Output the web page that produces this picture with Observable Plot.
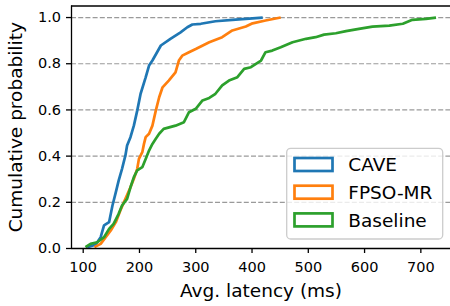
<!DOCTYPE html>
<html>
<head>
<meta charset="utf-8">
<script src="https://cdn.jsdelivr.net/npm/d3@7"></script>
<script src="https://cdn.jsdelivr.net/npm/@observablehq/plot@0.6"></script>
<style>
  html, body { margin: 0; padding: 0; background: white; }
  svg { display: block; }
</style>
</head>
<body>
<div id="chart"></div>
<script>
const seriesNames = ["CAVE", "FPSO-MR", "Baseline"];
const seriesColors = ["#1f77b4", "#ff7f0e", "#2ca02c"];

const caveLatency = [107, 122, 131, 137, 146, 152, 158, 163, 169, 175, 178, 184, 190, 196, 202, 211, 217, 223, 238, 255, 273, 285, 294, 309, 335, 371, 419];
const caveProb    = [0.006, 0.016, 0.049, 0.100, 0.114, 0.186, 0.244, 0.294, 0.345, 0.403, 0.446, 0.482, 0.532, 0.597, 0.670, 0.741, 0.792, 0.814, 0.879, 0.908, 0.936, 0.958, 0.970, 0.973, 0.984, 0.991, 1.0];

const fpsoLatency = [120, 131, 140, 149, 158, 166, 175, 184, 190, 196, 199, 205, 208, 211, 217, 223, 229, 235, 241, 252, 264, 270, 276, 288, 300, 324, 347, 365, 389, 401, 424, 451];
const fpsoProb    = [0.006, 0.020, 0.049, 0.078, 0.114, 0.165, 0.215, 0.265, 0.302, 0.345, 0.388, 0.417, 0.453, 0.482, 0.497, 0.532, 0.597, 0.655, 0.698, 0.727, 0.763, 0.814, 0.835, 0.850, 0.864, 0.893, 0.915, 0.944, 0.961, 0.975, 0.987, 1.0];

const baseLatency = [104, 113, 125, 137, 146, 154, 163, 169, 178, 184, 190, 196, 205, 211, 217, 223, 229, 235, 243, 264, 279, 288, 300, 312, 324, 335, 347, 359, 374, 386, 398, 416, 424, 436, 451, 472, 496, 513, 528, 549, 567, 590, 614, 644, 668, 685, 709, 727];
const baseProb    = [0.006, 0.020, 0.027, 0.049, 0.085, 0.107, 0.150, 0.186, 0.215, 0.265, 0.309, 0.338, 0.352, 0.388, 0.424, 0.453, 0.475, 0.497, 0.518, 0.532, 0.547, 0.590, 0.605, 0.641, 0.652, 0.670, 0.706, 0.727, 0.742, 0.778, 0.785, 0.814, 0.850, 0.857, 0.871, 0.893, 0.908, 0.915, 0.926, 0.932, 0.941, 0.951, 0.961, 0.965, 0.973, 0.990, 0.994, 1.0];

const xTicks = [100, 200, 300, 400, 500, 600, 700];
const yTicks = [0.0, 0.2, 0.4, 0.6, 0.8, 1.0];
const gridTicks = [0.2, 0.4, 0.6, 0.8, 1.0];
const xLabel = "Avg. latency (ms)";
const yLabel = "Cumulative probability";

const xDomain = [79.2, 752.7];
const yDomain = [0, 1.05];

const lats = [caveLatency, fpsoLatency, baseLatency];
const probs = [caveProb, fpsoProb, baseProb];
const rows = [];
seriesNames.forEach((name, i) => {
  lats[i].forEach((v, j) => rows.push({series: name, latency: v, prob: probs[i][j]}));
});

const plot = Plot.plot({
  width: 450,
  height: 306,
  marginLeft: 71,
  marginRight: 0,
  marginTop: 5.5,
  marginBottom: 58,
  style: {fontFamily: "DejaVu Sans", fontSize: "14.5px", color: "black", background: "white"},
  x: {domain: xDomain},
  y: {domain: yDomain},
  color: {domain: seriesNames, range: seriesColors},
  marks: [
    Plot.gridY(gridTicks, {stroke: "#888", strokeOpacity: 0.85, strokeWidth: 1.2, strokeDasharray: "5,2.2"}),
    Plot.line(rows, {x: "latency", y: "prob", z: "series", stroke: "series", strokeWidth: 2.7, strokeLinejoin: "miter", strokeLinecap: "butt"}),
    Plot.ruleY([yDomain[0]], {stroke: "black", strokeWidth: 1.3}),
    Plot.ruleY([yDomain[1]], {stroke: "black", strokeWidth: 1.3}),
    Plot.ruleX([xDomain[0]], {stroke: "black", strokeWidth: 1.3}),
    Plot.axisX(xTicks, {tickSize: 5, tickPadding: 8, strokeWidth: 1.3, fontSize: 14.5, label: null, tickFormat: d3.format("d")}),
    Plot.axisY(yTicks, {tickSize: 5, tickPadding: 5.5, strokeWidth: 1.3, fontSize: 14.5, label: null, tickFormat: d3.format(".1f")}),
    Plot.text([xLabel], {frameAnchor: "bottom", textAnchor: "middle", lineAnchor: "middle", dy: 43, fontSize: 18.5, fill: "black"}),
    Plot.text([yLabel], {frameAnchor: "left", textAnchor: "middle", lineAnchor: "middle", rotate: -90, dx: -55, fontSize: 18.5, fill: "black"})
  ]
});

document.getElementById("chart").appendChild(plot);

// Legend (matplotlib-style, outlined patches)
const color = plot.scale("color");
const svg = d3.select(plot);
const lg = svg.append("g")
  .attr("font-family", "DejaVu Sans")
  .attr("font-size", 18.5)
  .attr("text-anchor", "start");
lg.append("rect")
  .attr("x", 286.7).attr("y", 148.3).attr("width", 156).attr("height", 90.7)
  .attr("rx", 4).attr("fill", "white").attr("fill-opacity", 0.8)
  .attr("stroke", "#cccccc").attr("stroke-width", 1.3);
seriesNames.forEach((name, i) => {
  const cy = 164.5 + i * 27.7;
  lg.append("rect")
    .attr("x", 294.5).attr("y", cy - 6.5).attr("width", 38).attr("height", 13)
    .attr("fill", "none").attr("stroke", color.apply(name)).attr("stroke-width", 2.7);
  lg.append("text")
    .attr("x", 348.3).attr("y", cy).attr("dy", "0.36em")
    .attr("text-anchor", "start")
    .attr("fill", "black").text(name);
});
</script>
</body>
</html>
